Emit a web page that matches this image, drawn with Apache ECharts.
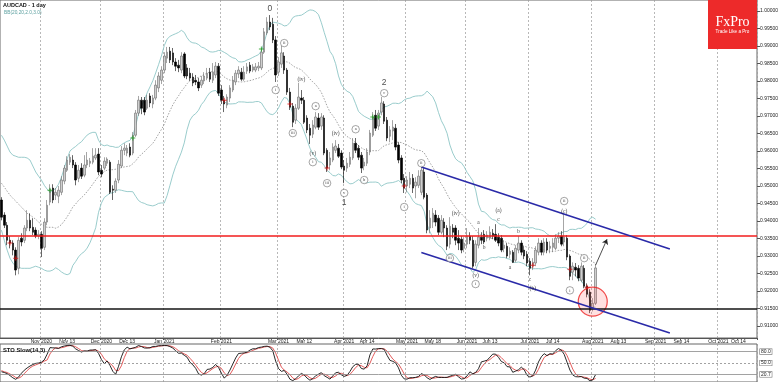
<!DOCTYPE html>
<html><head><meta charset="utf-8">
<script src="https://cdn.jsdelivr.net/npm/echarts@6/dist/echarts.min.js"></script>
<style>html,body{margin:0;padding:0;background:#fff}#c{width:782px;height:382px}</style>
</head><body><div id="c"></div>
<script>
// ---- data (prices in units of 0.0001) ----
const startDate = '2020-10-13';
const endDate = '2021-10-20';
const holidays = ['2020-12-25', '2021-01-01'];
const opens = [9460,9417,9388,9345,9337,9317,9265,9351,9345,9380,9402,9382,9374,9357,9362,9325,9397,9454,9494,9474,
9471,9482,9514,9545,9568,9574,9560,9522,9551,9531,9560,9565,9568,9580,9591,9545,9551,9565,9568,9491,
9488,9517,9557,9602,9594,9611,9594,9645,9708,9745,9745,9722,9757,9734,9751,9780,9802,9831,9865,9885,
9880,9854,9845,9831,9877,9837,9822,9811,9802,9797,9788,9800,9808,9825,9802,9817,9842,9774,9745,9731,
9751,9774,9797,9820,9825,9805,9828,9845,9831,9831,9837,9837,9882,9937,9968,9962,9917,9825,9848,9871,
9831,9768,9728,9688,9722,9751,9745,9694,9665,9648,9668,9694,9671,9694,9602,9560,9574,9602,9608,9594,
9557,9551,9562,9580,9622,9608,9588,9557,9565,9597,9645,9702,9671,9711,9734,9688,9642,9657,9665,9617,
9580,9522,9500,9505,9522,9500,9502,9482,9540,9474,9380,9397,9417,9408,9368,9397,9380,9334,9380,9380,
9351,9348,9322,9334,9357,9345,9282,9331,9354,9362,9351,9351,9365,9362,9354,9351,9322,9328,9305,9311,
9288,9317,9337,9317,9305,9285,9271,9280,9311,9337,9311,9340,9322,9325,9322,9351,9357,9340,9351,9300,
9254,9268,9265,9231,9265,9214,9197,9151,9165];
const closes = [9411,9388,9345,9337,9317,9260,9345,9340,9380,9402,9380,9368,9357,9362,9322,9397,9445,9491,9460,9482,
9488,9517,9551,9574,9582,9560,9517,9545,9528,9560,9574,9571,9585,9588,9540,9534,9571,9577,9482,9488,
9514,9562,9602,9608,9608,9588,9645,9708,9745,9722,9711,9745,9737,9751,9788,9814,9831,9871,9882,9860,
9854,9842,9837,9871,9814,9814,9808,9794,9797,9780,9802,9814,9822,9805,9825,9842,9765,9745,9734,9754,
9780,9802,9822,9831,9805,9825,9840,9828,9840,9840,9842,9882,9940,9968,9954,9917,9817,9854,9880,9831,
9768,9725,9682,9722,9754,9745,9682,9660,9645,9674,9697,9668,9697,9594,9551,9580,9611,9614,9585,9554,
9545,9565,9582,9622,9602,9582,9551,9568,9597,9651,9697,9665,9708,9737,9685,9637,9660,9668,9611,9574,
9517,9494,9517,9522,9494,9511,9528,9545,9468,9374,9408,9422,9397,9368,9402,9380,9328,9385,9368,9345,
9337,9317,9337,9357,9345,9271,9334,9354,9345,9340,9360,9368,9357,9345,9337,9317,9331,9300,9314,9282,
9322,9337,9311,9300,9280,9265,9282,9317,9337,9311,9340,9317,9328,9337,9351,9357,9334,9354,9297,9242,
9271,9260,9237,9271,9214,9191,9145,9165,9266];
const lows = [9402,9380,9331,9322,9302,9245,9248,9328,9337,9371,9371,9360,9351,9348,9297,9317,9388,9445,9451,9460,
9451,9474,9505,9540,9560,9551,9502,9511,9520,9525,9551,9554,9562,9574,9531,9525,9545,9557,9477,9460,
9480,9508,9551,9588,9585,9582,9588,9640,9700,9705,9702,9717,9725,9722,9745,9768,9791,9822,9851,9851,
9845,9828,9825,9822,9808,9805,9800,9785,9788,9771,9780,9791,9802,9797,9794,9808,9757,9734,9711,9722,
9740,9768,9788,9808,9800,9800,9820,9822,9825,9825,9828,9831,9877,9931,9945,9908,9797,9814,9837,9820,
9760,9717,9668,9677,9717,9734,9677,9651,9620,9637,9662,9660,9660,9588,9540,9545,9568,9594,9580,9548,
9508,9540,9554,9574,9594,9574,9537,9545,9557,9588,9640,9657,9660,9702,9677,9628,9625,9631,9602,9565,
9508,9480,9482,9494,9480,9465,9494,9474,9462,9365,9365,9380,9385,9360,9362,9354,9317,9322,9351,9331,
9317,9308,9311,9322,9334,9265,9271,9322,9334,9334,9342,9345,9348,9340,9328,9311,9311,9294,9294,9280,
9282,9308,9302,9291,9271,9245,9260,9271,9302,9302,9302,9308,9308,9311,9317,9337,9328,9328,9288,9231,
9231,9242,9228,9225,9208,9182,9137,9142,9160];
const highs = [9468,9425,9397,9357,9345,9325,9354,9365,9388,9431,9422,9408,9382,9374,9371,9408,9460,9505,9505,9494,
9500,9528,9560,9585,9591,9588,9568,9560,9565,9588,9597,9580,9608,9608,9608,9560,9582,9582,9574,9502,
9522,9574,9614,9622,9617,9622,9654,9717,9757,9754,9754,9760,9765,9760,9802,9825,9842,9882,9897,9897,
9894,9865,9860,9882,9882,9848,9837,9822,9817,9808,9814,9825,9837,9837,9851,9854,9851,9788,9757,9762,
9788,9814,9831,9842,9837,9842,9851,9854,9848,9851,9854,9894,9951,9982,9988,9980,9928,9868,9900,9882,
9837,9780,9737,9734,9794,9774,9754,9702,9677,9688,9711,9708,9708,9702,9608,9597,9622,9631,9620,9602,
9574,9580,9597,9637,9637,9617,9597,9580,9608,9660,9711,9717,9717,9754,9742,9697,9671,9688,9677,9625,
9588,9534,9528,9540,9534,9525,9545,9560,9551,9480,9431,9437,9431,9417,9417,9408,9388,9411,9391,9388,
9374,9357,9354,9380,9368,9357,9345,9380,9368,9374,9371,9385,9377,9391,9365,9360,9345,9337,9325,9317,
9331,9357,9345,9328,9314,9294,9294,9328,9351,9345,9351,9351,9342,9351,9362,9368,9371,9422,9360,9305,
9282,9280,9274,9282,9274,9222,9205,9180,9277];
// Bollinger values for the first bars (before 20 closes exist)
const bbUpperEarly = [9645,9631,9614,9597,9588,9585,9582,9582,9582,9580,9574,9557,9540,9528,9517,9502,9491,9482,9488];
const bbMidEarly   = [9508,9497,9485,9474,9465,9457,9448,9440,9431,9422,9417,9411,9405,9397,9391,9385,9382,9382,9382];
const bbLowerEarly = [9374,9345,9317,9294,9280,9271,9268,9265,9265,9265,9265,9268,9271,9268,9265,9260,9257,9257,9260];
// Stochastic values for the first bars
const stochKEarly = [27,25,22,17,11,7,13,23,31,37,42,46,49,50,52];
const stochDEarly = [30,27,25,21,17,12,10,14,22,30,37,42,45,48,50,55,58];
const stochLevels = [80, 50, 20];
const stochLevelLabels = ['80.0', '50.0', '20.7'];
// horizontal levels
const levelValues = [9357, 9150];
// channel lines [startBar, endBar], [startPrice, endPrice]
const channelBars = [147, 234];
const channelUpper = [9554, 9320];
const channelLower = [9310, 9080];
const arrowBars = [208, 212];
const arrowPrices = [9274, 9348];
const circleBar = 207, circlePrice = 9170;
const redCrossBars = [3,5,78,101,114,141,186,199,205];
const redCrossPrices = [9337,9294,9745,9734,9551,9500,9274,9262,9211];
const greenCrossBars = [17,46,91,130,132];
const greenCrossPrices = [9488,9637,9891,9697,9697];
// wave labels
const waveBars   = [94,96,99,105,110,102,109,109,117,124,114,120,120,127,134,134,141,147,159,157,166,166,167,169,174,174,178,181,185,186,197,197,199,204];
const wavePrices = [10005,9774,9908,9805,9728,9651,9594,9568,9651,9662,9508,9480,9451,9517,9794,9765,9440,9565,9420,9294,9245,9220,9397,9325,9405,9431,9268,9371,9234,9208,9457,9428,9202,9294];
const waveTexts  = ['0','i','ii','(iv)','a','iii','(v)','i','(iv)','a','iii','v','1','b','2','c','i','ii','(iv)','iii','(v)','i','a','b','c','(a)','a','b','c','(b)','ii','(c)','i','ii'];
const waveCircled= [0,1,1,0,1,1,0,1,0,1,1,1,0,1,0,1,1,1,0,1,0,1,0,0,0,0,0,0,0,0,1,0,1,1];
// axis ticks
const yTicks = [0.91,0.915,0.92,0.925,0.93,0.935,0.94,0.945,0.95,0.955,0.96,0.965,0.97,0.975,0.98,0.985,0.99,0.995,1.0];
const tickDates = ['2020-11-02','2020-11-13','2020-12-01','2020-12-14','2021-01-04','2021-02-01','2021-03-01','2021-03-12','2021-04-01','2021-04-13','2021-05-03','2021-05-14','2021-06-01','2021-06-11','2021-07-01','2021-07-13','2021-08-02','2021-08-13','2021-09-01','2021-09-14','2021-10-01','2021-10-12'];
const tickTexts = ['Nov 2020','Nov 13','Dec 2020','Dec 13','Jan 2021','Feb 2021','Mar 2021','Mar 12','Apr 2021','Apr 14','May 2021','May 18','Jun 2021','Jun 13','Jul 2021','Jul 14','Aug 2021','Aug 13','Sep 2021','Sep 14','Oct 2021','Oct 14'];
const monthStarts = ['2020-11-02','2020-12-01','2021-01-04','2021-02-01','2021-03-01','2021-04-01','2021-05-03','2021-06-01','2021-07-01','2021-08-02','2021-09-01','2021-10-01'];

// ---- build ----
const pip = 10000;
const categories = [];
for (let d = new Date(startDate + 'T00:00:00Z'); d <= new Date(endDate + 'T00:00:00Z'); d.setUTCDate(d.getUTCDate() + 1)) {
  const wd = d.getUTCDay(); const s = d.toISOString().slice(0, 10);
  if (wd === 0 || wd === 6 || holidays.includes(s)) continue;
  categories.push(s);
}
const tickMap = {}; tickDates.forEach((d, i) => tickMap[d] = tickTexts[i]);
const monthSet = new Set(monthStarts);
const n = closes.length;
const candleData = opens.map((o, i) => [o / pip, closes[i] / pip, lows[i] / pip, highs[i] / pip]);

const bbU = [], bbM = [], bbL = [];
for (let i = 0; i < n; i++) {
  if (i < bbMidEarly.length) { bbU.push(bbUpperEarly[i] / pip); bbM.push(bbMidEarly[i] / pip); bbL.push(bbLowerEarly[i] / pip); continue; }
  const w = closes.slice(i - 19, i + 1);
  const m = w.reduce((a, b) => a + b, 0) / 20;
  const sd = Math.sqrt(w.reduce((a, b) => a + (b - m) * (b - m), 0) / 20);
  bbU.push((m + 2 * sd) / pip); bbM.push(m / pip); bbL.push((m - 2 * sd) / pip);
}
const stK = [], stD = [];
for (let i = 0; i < n; i++) {
  if (i < stochKEarly.length) { stK.push(stochKEarly[i]); continue; }
  let num = 0, den = 0;
  for (let j = i - 2; j <= i; j++) {
    let hh = -Infinity, ll = Infinity;
    for (let k = j - 13; k <= j; k++) { hh = Math.max(hh, highs[k]); ll = Math.min(ll, lows[k]); }
    num += closes[j] - ll; den += hh - ll;
  }
  stK.push(den ? 100 * num / den : 50);
}
for (let i = 0; i < n; i++) {
  if (i < stochDEarly.length) { stD.push(stochDEarly[i]); continue; }
  stD.push((stK[i] + stK[i - 1] + stK[i - 2]) / 3);
}

const circled = [], plain = [], big = [];
waveTexts.forEach((t, i) => {
  const item = { value: [categories[waveBars[i]], wavePrices[i] / pip], name: t };
  if (/^[0-9]$/.test(t)) big.push(item); else if (waveCircled[i]) circled.push(item); else plain.push(item);
});
const plusPath = 'path://M4,0H6V4H10V6H6V10H4V6H0V4H4Z';
const lastClose = closes[n - 1] / pip;
const FONT = 'Liberation Sans, Arial, sans-serif';
const splitLine = { show: true, interval: (i, v) => monthSet.has(v), lineStyle: { color: '#9a9a9a', type: [2, 2], width: 0.7 } };

const option = {
  animation: false,
  backgroundColor: '#fff',
  textStyle: { fontFamily: FONT },
  grid: [
    { left: 0, right: 25, top: 0, bottom: 44, show: true, borderColor: '#666', borderWidth: 1 },
    { left: 0, right: 25, top: 344, bottom: 0, show: true, borderColor: '#666', borderWidth: 1 }
  ],
  xAxis: [
    { type: 'category', gridIndex: 0, data: categories, boundaryGap: true,
      axisLine: { show: true, lineStyle: { color: '#555' } },
      axisTick: { show: true, length: 2, interval: (i, v) => v in tickMap, lineStyle: { color: '#555' } },
      axisLabel: { show: true, interval: (i, v) => v in tickMap, formatter: v => tickMap[v] || '', fontSize: 5, color: '#222', margin: 1.5 },
      splitLine: splitLine },
    { type: 'category', gridIndex: 1, data: categories, boundaryGap: true,
      axisLine: { show: false }, axisTick: { show: false }, axisLabel: { show: false }, splitLine: splitLine }
  ],
  yAxis: [
    { type: 'value', gridIndex: 0, position: 'right', min: 0.9066, max: 1.0031,
      splitLine: { show: false }, axisLine: { show: false },
      axisTick: { show: true, length: 3, customValues: yTicks, lineStyle: { color: '#555' } },
      axisLabel: { customValues: yTicks, formatter: v => v.toFixed(5), fontSize: 5, color: '#222', margin: 3 } },
    { type: 'value', gridIndex: 1, position: 'right', min: 0, max: 100,
      splitLine: { show: false }, axisLine: { show: false }, axisTick: { show: false }, axisLabel: { show: false } }
  ],
  series: [
    { type: 'line', name: 'bbUpper', data: bbU, showSymbol: false, silent: true, lineStyle: { color: '#8ec6c6', width: 0.9 }, z: 1 },
    { type: 'line', name: 'bbMid', data: bbM, showSymbol: false, silent: true, lineStyle: { color: '#8a8a8a', width: 0.8, type: [1.5, 1.5] }, z: 1 },
    { type: 'line', name: 'bbLower', data: bbL, showSymbol: false, silent: true, lineStyle: { color: '#8ec6c6', width: 0.9 }, z: 1 },
    { type: 'candlestick', name: 'AUDCAD', data: candleData, barWidth: 2, z: 3,
      itemStyle: { color: '#cfcfcf', color0: '#000', borderColor: '#6a6a6a', borderColor0: '#000', borderWidth: 0.6 },
      markLine: { silent: true, animation: false, symbol: 'none', precision: 5, label: { show: false },
        data: [
          { yAxis: levelValues[0] / pip, lineStyle: { color: '#f21d1d', width: 1.6, type: 'solid' } },
          { yAxis: levelValues[1] / pip, lineStyle: { color: '#151515', width: 1.6, type: 'solid' } },
          { yAxis: lastClose, lineStyle: { opacity: 0 },
            label: { show: true, position: 'end', formatter: lastClose.toFixed(5), fontSize: 5, color: '#222', distance: 3,
              backgroundColor: '#fff', borderColor: '#777', borderWidth: 0.6, padding: [0, 1] } }
        ] } },
    { type: 'scatter', name: 'circle', data: [[categories[circleBar], circlePrice / pip]], symbolSize: 29, silent: true, z: 4,
      itemStyle: { color: 'rgba(255,70,70,0.2)', borderColor: '#ee2020', borderWidth: 1.2 } },
    { type: 'line', name: 'channelUpper', data: channelBars.map((b, i) => [categories[b], channelUpper[i] / pip]),
      showSymbol: false, silent: true, lineStyle: { color: '#2a2aa8', width: 1.6 }, z: 5,
      markLine: { silent: true, animation: false, symbol: ['none', 'arrow'], symbolSize: 5, precision: 5, label: { show: false },
        lineStyle: { color: '#222', width: 0.8, type: 'solid' },
        data: [[{ coord: [categories[arrowBars[0]], arrowPrices[0] / pip] }, { coord: [categories[arrowBars[1]], arrowPrices[1] / pip] }]] } },
    { type: 'line', name: 'channelLower', data: channelBars.map((b, i) => [categories[b], channelLower[i] / pip]),
      showSymbol: false, silent: true, lineStyle: { color: '#2a2aa8', width: 1.6 }, z: 5 },
    { type: 'scatter', name: 'redCross', data: redCrossBars.map((b, i) => [categories[b], redCrossPrices[i] / pip]),
      symbol: plusPath, symbolSize: 5, itemStyle: { color: '#d81010' }, z: 6, silent: true },
    { type: 'scatter', name: 'greenCross', data: greenCrossBars.map((b, i) => [categories[b], greenCrossPrices[i] / pip]),
      symbol: plusPath, symbolSize: 5, itemStyle: { color: '#1c9e1c' }, z: 6, silent: true },
    { type: 'scatter', name: 'waveCircled', data: circled, symbol: 'circle', symbolSize: 7.5, z: 7, silent: true,
      itemStyle: { color: '#fff', borderColor: '#444', borderWidth: 0.6 },
      label: { show: true, position: 'inside', formatter: '{b}', fontSize: 4.5, color: '#111', fontFamily: 'Liberation Serif' } },
    { type: 'scatter', name: 'wavePlain', data: plain, symbol: 'circle', symbolSize: 6, z: 7, silent: true,
      itemStyle: { color: 'rgba(0,0,0,0)' },
      label: { show: true, position: 'inside', formatter: '{b}', fontSize: 5.5, color: '#111', fontFamily: 'Liberation Serif' } },
    { type: 'scatter', name: 'waveBig', data: big, symbol: 'circle', symbolSize: 8, z: 7, silent: true,
      itemStyle: { color: 'rgba(0,0,0,0)' },
      label: { show: true, position: 'inside', formatter: '{b}', fontSize: 8.5, color: '#222', fontFamily: FONT } },
    { type: 'line', name: 'stochK', xAxisIndex: 1, yAxisIndex: 1, data: stK, showSymbol: false, silent: true,
      lineStyle: { color: '#111', width: 0.9 }, z: 3,
      markLine: { silent: true, animation: false, symbol: 'none', precision: 2,
        data: stochLevels.map((lv, i) => ({ yAxis: lv,
          lineStyle: { color: '#8a8a8a', width: 0.8, type: i === 1 ? [2, 2] : 'solid' },
          label: { show: true, position: 'end', formatter: stochLevelLabels[i], fontSize: 5, color: '#222', distance: 3,
            backgroundColor: '#fff', borderColor: '#777', borderWidth: 0.6, padding: [0, 1] } })) } },
    { type: 'line', name: 'stochD', xAxisIndex: 1, yAxisIndex: 1, data: stD, showSymbol: false, silent: true,
      lineStyle: { color: '#e04848', width: 0.9 }, z: 2 }
  ],
  graphic: [
    { type: 'text', left: 3, top: 2, style: { text: 'AUDCAD - 1 day', font: 'bold 5.5px ' + FONT, fill: '#111' } },
    { type: 'text', left: 4, top: 10, style: { text: 'BB(20,20,2.0,3.0)', font: '4.8px ' + FONT, fill: '#5b9f9f' } },
    { type: 'rect', shape: { x: 708, y: 0, width: 49, height: 49 }, style: { fill: '#ed2a2a' }, z: 100 },
    { type: 'text', x: 732.5, y: 22, z: 101, style: { text: 'FxPro', font: '14px Liberation Serif', fill: '#fff', align: 'center', verticalAlign: 'middle' } },
    { type: 'text', x: 732.5, y: 31.5, z: 101, style: { text: 'Trade Like a Pro', font: '4.6px ' + FONT, fill: '#fff', align: 'center', verticalAlign: 'middle' } },
    { type: 'text', left: 3, top: 347, z: 50, style: { text: 'STO Slow(14,3)', font: 'bold 5.8px ' + FONT, fill: '#111' } }
  ]
};
const chart = echarts.init(document.getElementById('c'));
chart.setOption(option);
</script></body></html>
